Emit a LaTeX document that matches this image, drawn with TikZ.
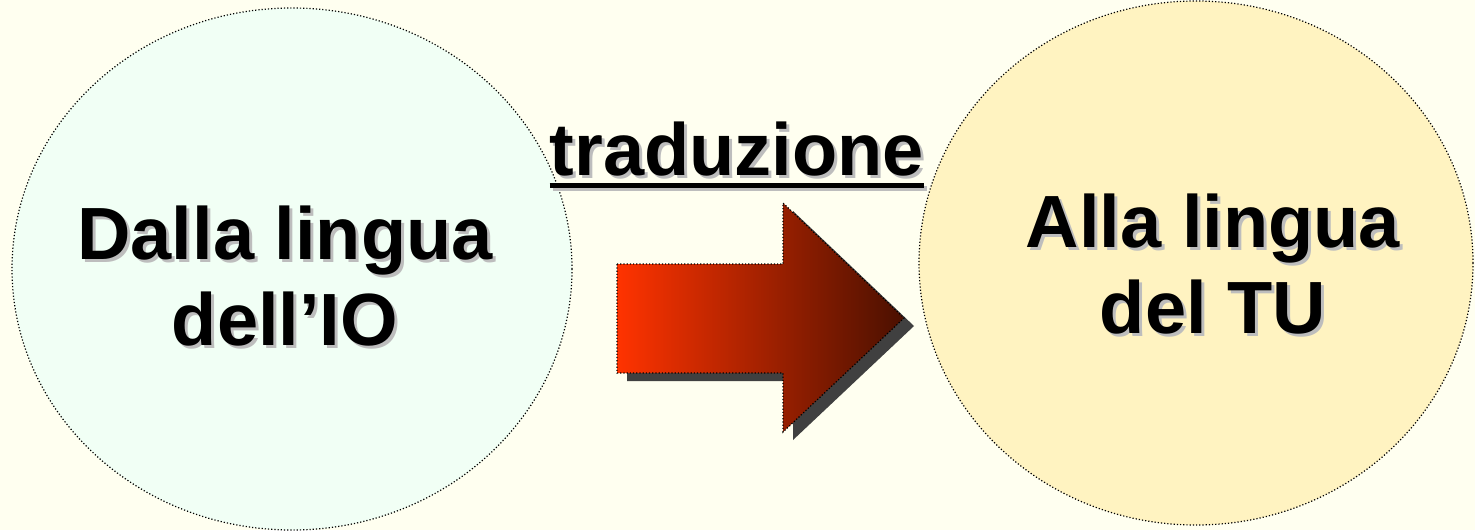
\documentclass[tikz,border=0pt]{standalone}
\usepackage{fontspec}
\setmainfont{Liberation Sans}
\usepackage{tikz}
\usetikzlibrary{shapes.geometric}

\definecolor{sfondo}{HTML}{FFFFF0}
\definecolor{verdino}{HTML}{F1FFF5}
\definecolor{giallino}{HTML}{FFF3C1}
\definecolor{ombratesto}{HTML}{BDBDBD}
\definecolor{ombrafreccia}{HTML}{404040}
\definecolor{rossochiaro}{HTML}{FF3300}
\definecolor{rossoscuro}{HTML}{4A1000}

% testo con ombra grigia
\newcommand{\ombra}[1]{\makebox[0pt][l]{\hspace{1.5pt}\raisebox{-1.5pt}{\color{ombratesto}#1}}#1}

\begin{document}
\begin{tikzpicture}[x=0.5pt,y=-0.5pt]
	\tikzstyle{cerchio}=[ellipse,draw=black,line width=0.6pt,densely dotted]
	\tikzstyle{scritta}=[align=center,font=\fontsize{37}{43}\selectfont\bfseries,
	inner sep=0pt]
	\tikzstyle{sottolinea}=[line width=2.8pt]

	\fill[sfondo] (0,0) rectangle (1475,530);

	\node[cerchio,fill=verdino,minimum width=280pt,minimum height=261pt] (io) 
	at (292,269) {};
	\node[cerchio,fill=giallino,minimum width=277pt,minimum height=262pt] (tu)
	at (1196,263) {};

	\node[scritta] (io-t) at (285,278) {\ombra{Dalla lingua}\\\ombra{dell’IO}};
	\node[scritta] (tu-t) at (1213,266) {\ombra{Alla lingua}\\\ombra{del TU}};
	\node[scritta,anchor=base] (trad) at (737,175) {\ombra{traduzione}};

	\draw[sottolinea,ombratesto] ([xshift=1.5pt,yshift=-6.8pt]trad.base west) --
	([xshift=1.5pt,yshift=-6.8pt]trad.base east);
	\draw[sottolinea,black] ([yshift=-5.3pt]trad.base west) -- 
	([yshift=-5.3pt]trad.base east);

	% freccia
	\fill[ombrafreccia,shift={(10,8)}] (617,264) -- (783,264) -- (783,203) --
	(904,318) -- (783,432) -- (783,373) -- (617,373) -- cycle;
	\shade[left color=rossochiaro,right color=rossoscuro,draw=black,
	line width=0.6pt,densely dotted] (617,264) -- (783,264) -- (783,203) --
	(904,318) -- (783,432) -- (783,373) -- (617,373) -- cycle;
\end{tikzpicture}
\end{document}
